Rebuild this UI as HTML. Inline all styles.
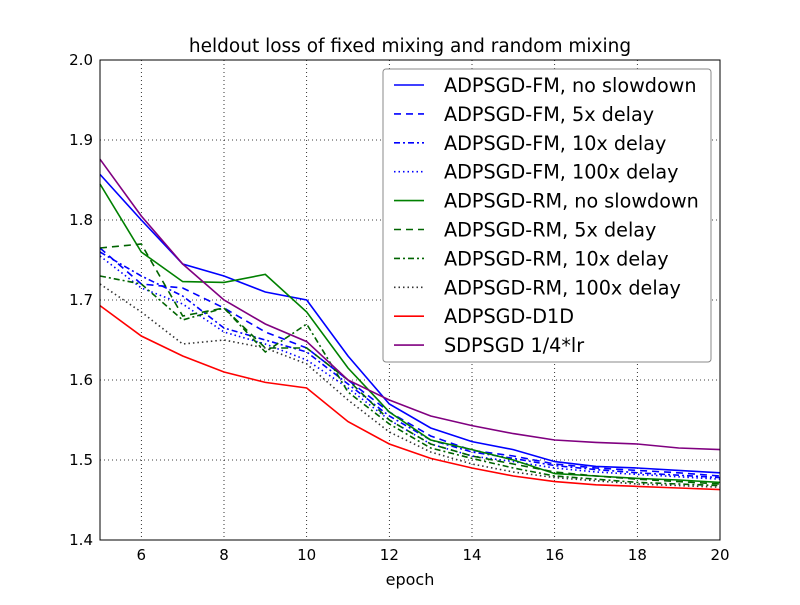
<!DOCTYPE html>
<html><head><meta charset="utf-8"><style>
body{margin:0;background:#fff;}
svg text{font-family:"DejaVu Sans","Liberation Sans",sans-serif;}
</style></head><body>
<svg id="chart" width="800" height="600" xmlns="http://www.w3.org/2000/svg">
<rect width="800" height="600" fill="#fff"/>
<text x="410" y="52" text-anchor="middle" font-size="18.5">heldout loss of fixed mixing and random mixing</text>
<g id="grid"></g>
<g id="series"></g>
<rect x="100" y="60" width="620" height="480" fill="none" stroke="#000" stroke-width="1"/>
<g id="ticks"></g>
<text x="410" y="585" text-anchor="middle" font-size="16">epoch</text>
<g id="legend"></g>
</svg>
<script>
const epochs=[5,6,7,8,9,10,11,12,13,14,15,16,17,18,19,20];
const xTicks=[6,8,10,12,14,16,18,20];
const yTicks=[1.4,1.5,1.6,1.7,1.8,1.9,2.0];
const names=["ADPSGD-FM, no slowdown","ADPSGD-FM, 5x delay","ADPSGD-FM, 10x delay","ADPSGD-FM, 100x delay","ADPSGD-RM, no slowdown","ADPSGD-RM, 5x delay","ADPSGD-RM, 10x delay","ADPSGD-RM, 100x delay","ADPSGD-D1D","SDPSGD 1/4*lr"];
const fmNo=[1.857,1.80,1.745,1.73,1.71,1.70,1.63,1.57,1.54,1.523,1.513,1.498,1.492,1.49,1.487,1.484];
const fm5=[1.765,1.72,1.715,1.69,1.66,1.64,1.60,1.56,1.53,1.512,1.505,1.495,1.49,1.487,1.484,1.48];
const fm10=[1.76,1.73,1.705,1.665,1.65,1.635,1.595,1.555,1.525,1.51,1.502,1.493,1.488,1.484,1.481,1.478];
const fm100=[1.755,1.715,1.695,1.66,1.645,1.625,1.59,1.55,1.52,1.505,1.498,1.49,1.485,1.482,1.479,1.476];
const rmNo=[1.845,1.76,1.723,1.722,1.732,1.685,1.615,1.56,1.525,1.513,1.50,1.483,1.48,1.477,1.475,1.472];
const rm5=[1.765,1.77,1.68,1.69,1.64,1.64,1.60,1.55,1.52,1.505,1.495,1.485,1.48,1.476,1.473,1.47];
const rm10=[1.73,1.72,1.675,1.69,1.635,1.67,1.585,1.545,1.515,1.502,1.49,1.48,1.476,1.472,1.47,1.468];
const rm100=[1.72,1.685,1.645,1.65,1.64,1.62,1.575,1.535,1.51,1.495,1.485,1.478,1.474,1.47,1.468,1.466];
const d1d=[1.693,1.655,1.63,1.61,1.597,1.59,1.548,1.52,1.502,1.49,1.48,1.473,1.469,1.467,1.465,1.463];
const sdp=[1.876,1.805,1.745,1.70,1.67,1.648,1.60,1.575,1.555,1.543,1.533,1.525,1.522,1.52,1.515,1.513];
const allSeries=[fmNo,fm5,fm10,fm100,rmNo,rm5,rm10,rm100,d1d,sdp];
const colors=["#0000ff","#0000ff","#0000ff","#0000ff","#008000","#006400","#006400","#333333","#ff0000","#800080"];
const dashes=["","7,5","6,3,2,3","1.5,3","","7,5","6,3,2,3","1.5,3","",""];
const NS="http://www.w3.org/2000/svg";
const X=v=>100+(v-5)*620/15;
const Y=v=>540-(v-1.4)*480/0.6;
function mk(tag,attrs,parent){const e=document.createElementNS(NS,tag);for(const k in attrs)e.setAttribute(k,attrs[k]);parent.appendChild(e);return e;}
const grid=document.getElementById('grid'),ticks=document.getElementById('ticks');
xTicks.forEach(t=>{
  const l=mk('line',{x1:X(t),x2:X(t),y1:60,y2:540,stroke:'#000','stroke-dasharray':'1,3','stroke-width':0.8},grid);
  
  
  const tx=mk('text',{x:X(t),y:560,'text-anchor':'middle','font-size':15},ticks);
  tx.textContent=t;
  
  
});
yTicks.forEach(t=>{
  const l=mk('line',{x1:100,x2:720,y1:Y(t),y2:Y(t),stroke:'#000','stroke-dasharray':'1,3','stroke-width':0.8},grid);
  
  
  const tx=mk('text',{x:93,y:Y(t)+5,'text-anchor':'end','font-size':15},ticks);
  tx.textContent=t.toFixed(1);
  
  
});
const sg=document.getElementById('series');
allSeries.forEach((s,i)=>{
  const pts=s.map((v,j)=>X(epochs[j]).toFixed(1)+','+Y(v).toFixed(1)).join(' ');
  const p=mk('polyline',{points:pts,fill:'none',stroke:colors[i],'stroke-width':1.6},sg);
  if(dashes[i])p.setAttribute('stroke-dasharray',dashes[i]);
  
  
});
const lg=document.getElementById('legend');
const box=mk('rect',{x:383,y:69,width:328,height:293,rx:3,fill:'#fff',stroke:'#888','stroke-width':1},lg);


names.forEach((n,i)=>{
  const y=85+i*28.9;
  const l=mk('line',{x1:394,x2:424,y1:y,y2:y,stroke:colors[i],'stroke-width':1.6},lg);
  if(dashes[i])l.setAttribute('stroke-dasharray',dashes[i]);
  
  
  const t=mk('text',{x:444,y:y+7,'font-size':19.2},lg);
  t.textContent=n;
  
  
});
</script>
</body></html>
